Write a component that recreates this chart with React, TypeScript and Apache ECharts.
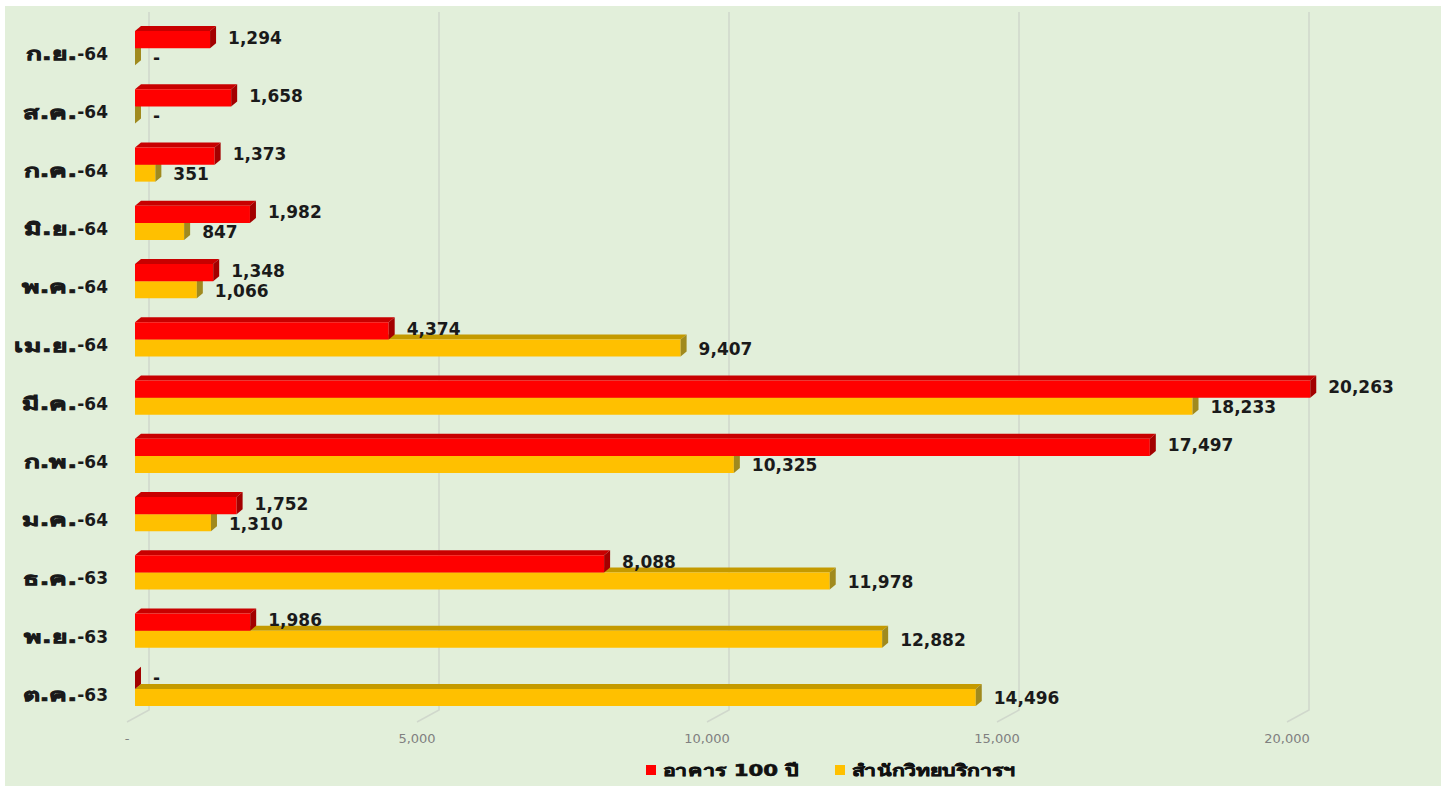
import React, { useEffect, useRef } from "react";
import * as echarts from "echarts";

const categories = ["ต.ค.-63", "พ.ย.-63", "ธ.ค.-63", "ม.ค.-64", "ก.พ.-64", "มี.ค.-64", "เม.ย.-64", "พ.ค.-64", "มิ.ย.-64", "ก.ค.-64", "ส.ค.-64", "ก.ย.-64"];
const building100 = [0, 1986, 8088, 1752, 17497, 20263, 4374, 1348, 1982, 1373, 1658, 1294];
const libraryService = [14496, 12882, 11978, 1310, 10325, 18233, 9407, 1066, 847, 351, 0, 0];
const xTicks = [0, 5000, 10000, 15000, 20000];
const seriesNames = ["อาคาร 100 ปี", "สำนักวิทยบริการฯ"];
const seriesColors = ["#FF0000", "#FFC000"];

const LATIN = "'DejaVu Sans', sans-serif";
const YLABEL_SIZE = 17;
const THAI_SCALE = 1.55;
const LEGEND_SCALE = 1.33;

const fmt = (v: number) => (v === 0 ? "-" : v.toLocaleString("en-US"));

function measure(text: string, font: string) {
  const c = document.createElement("canvas").getContext("2d");
  if (!c) return text.length * 10;
  c.font = font;
  return c.measureText(text).width;
}

function makeBarRenderer(topFrac: number, labelShift: number, front: string, topC: string, side: string) {
  return (params: any, api: any) => {
    const v = api.value(0);
    const idx = api.value(1);
    const p0 = api.coord([0, idx]);
    const p1 = api.coord([v, idx]);
    const band = api.size([0, 1])[1];
    const h = 0.292 * band;
    const top = p0[1] + topFrac * band;
    const bot = top + h;
    const x0 = p0[0];
    const x1 = p1[0];
    const dx = 6;
    const dy = 5;
    return {
      type: "group",
      children: [
        {
          type: "polygon",
          shape: { points: [[x0, top], [x1, top], [x1 + dx, top - dy], [x0 + dx, top - dy]] },
          style: { fill: topC },
        },
        {
          type: "rect",
          shape: { x: x0, y: top, width: Math.max(0, x1 - x0), height: h },
          style: { fill: front },
        },
        {
          type: "polygon",
          shape: { points: [[x1, top], [x1 + dx, top - dy], [x1 + dx, bot - dy], [x1, bot]] },
          style: { fill: side },
        },
        {
          type: "text",
          z2: 10,
          style: {
            x: x1 + 18,
            y: top + h / 2 + labelShift,
            text: fmt(v),
            fill: "#1a1a1a",
            fontSize: 17,
            fontWeight: "bold",
            fontFamily: LATIN,
            align: "left",
            verticalAlign: "middle",
          },
        },
      ],
    };
  };
}

export default function App() {
  const ref = useRef<HTMLDivElement>(null);
  useEffect(() => {
    if (!ref.current) return;
    const chart = echarts.init(ref.current, undefined, { renderer: "svg" });
    const labelFont = `bold ${YLABEL_SIZE}px ${LATIN}`;
    chart.setOption({
      animation: false,
      backgroundColor: "#E2EFDA",
      grid: { left: 130, top: 19, width: 1276, height: 699 },
      legend: { show: false },
      xAxis: {
        type: "value",
        min: 0,
        max: 22000,
        interval: 5000,
        axisLine: { show: false },
        axisTick: { show: false },
        splitLine: { show: false },
        axisLabel: { show: false },
      },
      yAxis: {
        type: "category",
        data: categories,
        axisLine: { show: false },
        axisTick: { show: false },
        axisLabel: { show: false },
      },
      graphic: seriesNames.flatMap((name, i) => {
        const left = i === 0 ? 641 : 830;
        return [
          { type: "rect", left, top: 759, shape: { width: 10, height: 10 }, style: { fill: seriesColors[i] } },
          {
            type: "text",
            x: left + 17,
            y: 764,
            scaleX: LEGEND_SCALE,
            style: {
              text: name,
              fill: "#111",
              fontSize: 16,
              fontWeight: "bold",
              fontFamily: LATIN,
              align: "left",
              verticalAlign: "middle",
              stroke: "#111",
              lineWidth: 0.6,
            },
          },
        ];
      }),
      series: [
        {
          type: "custom",
          name: "gridlines",
          silent: true,
          z: 1,
          data: xTicks.map((t) => [t, 0]),
          encode: { x: 0, y: 1 },
          renderItem: (params: any, api: any) => {
            const cs = params.coordSys;
            const v = api.value(0);
            const x = api.coord([v, 0])[0];
            return {
              type: "group",
              children: [
                {
                  type: "polyline",
                  shape: {
                    points: [
                      [x + 14, cs.y - 13],
                      [x + 14, cs.y + cs.height - 14],
                      [x - 8, cs.y + cs.height - 2],
                    ],
                  },
                  style: { stroke: "#d0d8cc", lineWidth: 1.5, fill: "none" },
                },
                {
                  type: "text",
                  style: {
                    x: x - 8,
                    y: cs.y + cs.height + 14,
                    text: fmt(v),
                    fill: "#808080",
                    fontSize: 13,
                    fontFamily: LATIN,
                    align: "center",
                    verticalAlign: "middle",
                  },
                },
              ],
            };
          },
        },
        {
          type: "custom",
          name: "categoryLabels",
          silent: true,
          z: 1,
          data: categories.map((_, i) => [0, i]),
          encode: { x: 0, y: 1 },
          renderItem: (params: any, api: any) => {
            const idx = api.value(1);
            const p = api.coord([0, idx]);
            const label = categories[idx];
            const m = label.match(/^(.*?)(-\d+)$/);
            const thai = m ? m[1] : label;
            const suffix = m ? m[2] : "";
            const right = p[0] - 27;
            const sw = measure(suffix, labelFont);
            const common = {
              fill: "#1a1a1a",
              fontSize: YLABEL_SIZE,
              fontWeight: "bold",
              fontFamily: LATIN,
              align: "right",
              verticalAlign: "middle",
            };
            return {
              type: "group",
              children: [
                { type: "text", x: right, y: p[1], style: { ...common, text: suffix } },
                {
                  type: "text",
                  x: right - sw,
                  y: p[1],
                  scaleX: THAI_SCALE,
                  style: { ...common, text: thai, stroke: "#1a1a1a", lineWidth: 0.7 },
                },
              ],
            };
          },
        },
        {
          type: "custom",
          name: seriesNames[0],
          z: 3,
          itemStyle: { color: seriesColors[0] },
          data: building100.map((v, i) => [v, i]),
          encode: { x: 0, y: 1 },
          renderItem: makeBarRenderer(-0.395, -2, seriesColors[0], "#C80000", "#A30000"),
        },
        {
          type: "custom",
          name: seriesNames[1],
          z: 2,
          itemStyle: { color: seriesColors[1] },
          data: libraryService.map((v, i) => [v, i]),
          encode: { x: 0, y: 1 },
          renderItem: makeBarRenderer(-0.103, 1, seriesColors[1], "#C49A00", "#A08A1E"),
        },
      ],
    });
    return () => chart.dispose();
  }, []);
  return <div ref={ref} style={{ position: "absolute", left: 5, top: 6, width: 1436, height: 780 }} />;
}
